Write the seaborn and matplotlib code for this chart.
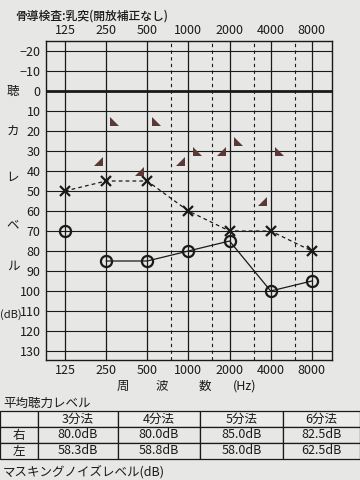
import matplotlib
matplotlib.use("Agg")
import matplotlib.pyplot as plt
import seaborn as sns
import numpy as np
from matplotlib.path import Path
from matplotlib.transforms import offset_copy, blended_transform_factory

# ---------------- data ----------------
freqs = [125, 250, 500, 1000, 2000, 4000, 8000]
freq_labels = ["125", "250", "500", "1000", "2000", "4000", "8000"]
half_octaves = [750, 1500, 3000, 6000]
right_air = [70, 85, 85, 80, 75, 100, 95]
left_air = [50, 45, 45, 60, 70, 70, 80]
bone_freqs = [250, 500, 1000, 2000, 4000]
right_bone = [35, 40, 35, 30, 55]
left_bone = [15, 15, 30, 25, 30]
levels = list(range(-20, 140, 10))

table_header = ["", "3分法", "4分法", "5分法", "6分法"]
table_right = ["右", "80.0dB", "80.0dB", "85.0dB", "82.5dB"]
table_left = ["左", "58.3dB", "58.8dB", "58.0dB", "62.5dB"]

ylabel_chars = ["聴", "カ", "レ", "ベ", "ル", "(dB)"]
ylabel_pos = [0, 20, 43, 67, 87.5, 112]

# ---------------- style ----------------
sns.set_style("white")
plt.rcParams["font.family"] = ["Noto Sans CJK JP", "DejaVu Sans"]
paper = "#e7e7e5"
ink = "#1a1a1a"
bone_col = "#5a3838"

fig = plt.figure(figsize=(3.6, 4.8), dpi=100, facecolor=paper)
ax = fig.add_axes([46 / 360, 1 - 360 / 480, (332 - 46) / 360, (360 - 41) / 480])
ax.set_facecolor(paper)
ax.set_xscale("log", base=2)
ax.set_xlim(125 / 2 ** 0.46, 8000 * 2 ** 0.49)
ax.set_ylim(134.5, -25)

# grid
for lv in levels:
    ax.axhline(lv, color=ink, lw=2.0 if lv == 0 else 0.8, zorder=1)
for f in freqs:
    ax.axvline(f, color=ink, lw=0.9, zorder=1)
for f in half_octaves:
    ax.axvline(f, color=ink, lw=0.8, ls=(0, (3, 3)), zorder=1)

# air conduction
sns.lineplot(x=freqs[1:], y=right_air[1:], ax=ax, color=ink, lw=0.9, zorder=3)
sns.lineplot(x=freqs, y=left_air, ax=ax, color=ink, lw=0.9, ls=(0, (3, 2.5)), zorder=3)
ax.plot(freqs, right_air, ls="none", marker="o", ms=8, mfc="none", mec=ink, mew=1.6, zorder=4)
ax.plot(freqs, left_air, ls="none", marker="x", ms=7, mec=ink, mew=1.6, zorder=4)

# bone conduction markers
tri_r = Path([(1, -1), (1, 1), (-1, -1), (1, -1)], [Path.MOVETO, Path.LINETO, Path.LINETO, Path.CLOSEPOLY])
tri_l = Path([(-1, -1), (-1, 1), (1, -1), (-1, -1)], [Path.MOVETO, Path.LINETO, Path.LINETO, Path.CLOSEPOLY])
tr_left = offset_copy(ax.transData, fig=fig, x=-6, y=0, units="points")
tr_right = offset_copy(ax.transData, fig=fig, x=6, y=0, units="points")
ax.scatter(bone_freqs, right_bone, marker=tri_r, s=42, color=bone_col, transform=tr_left, zorder=4, linewidths=0)
ax.scatter(bone_freqs, left_bone, marker=tri_l, s=42, color=bone_col, transform=tr_right, zorder=4, linewidths=0)

# ticks
ax.set_xticks(freqs)
ax.set_xticklabels(freq_labels)
ax.xaxis.set_minor_locator(matplotlib.ticker.NullLocator())
ax.tick_params(axis="x", which="both", top=True, labeltop=True, bottom=False, labelbottom=True,
               length=0, pad=3, labelsize=9, colors=ink)
ax.set_yticks(levels)
ax.set_yticklabels([("−" + str(-v)) if v < 0 else str(v) for v in levels])
ax.tick_params(axis="y", length=0, pad=4, labelsize=9, colors=ink)
for s in ax.spines.values():
    s.set_color(ink)
    s.set_linewidth(1.0)

# vertical y label characters
btr = blended_transform_factory(fig.transFigure, ax.transData)
for ch, yp in zip(ylabel_chars, ylabel_pos):
    if ch == "(dB)":
        ax.text(0.0, yp, ch, transform=btr, ha="left", va="center", fontsize=8, color=ink, clip_on=False)
    else:
        ax.text(13 / 360, yp, ch, transform=btr, ha="center", va="center", fontsize=9, color=ink)

# texts
fig.text(15 / 360, 1 - 16 / 480, "骨導検査:乳突(開放補正なし)", fontsize=8.5, fontweight="medium",
         va="center", ha="left", color=ink)
for ch, xp in zip(["周", "波", "数", "(Hz)"], [123, 162, 205, 245]):
    fig.text(xp / 360, 1 - 386 / 480, ch, fontsize=9, ha="center", va="center", color=ink)
fig.text(3 / 360, 1 - 403 / 480, "平均聴力レベル", fontsize=9, ha="left", va="center", color=ink)
fig.text(3 / 360, 1 - 472 / 480, "マスキングノイズレベル(dB)", fontsize=9, ha="left", va="center", color=ink)

# table
tax = fig.add_axes([0, 1 - 459 / 480, 1, (459 - 411) / 480])
tax.set_axis_off()
widths = np.array([38, 80, 82, 83, 77]) / 360
tbl = tax.table(cellText=[table_header, table_right, table_left], colWidths=list(widths),
                cellLoc="center", loc="center", bbox=[0, 0, 1, 1])
tbl.auto_set_font_size(False)
tbl.set_fontsize(9)
for (r, c), cell in tbl.get_celld().items():
    cell.set_facecolor(paper if r > 0 else "#ececea")
    cell.set_edgecolor(ink)
    cell.set_linewidth(0.9)
    cell.get_text().set_color(ink)

fig.savefig("out.png", dpi=100, facecolor=paper)
